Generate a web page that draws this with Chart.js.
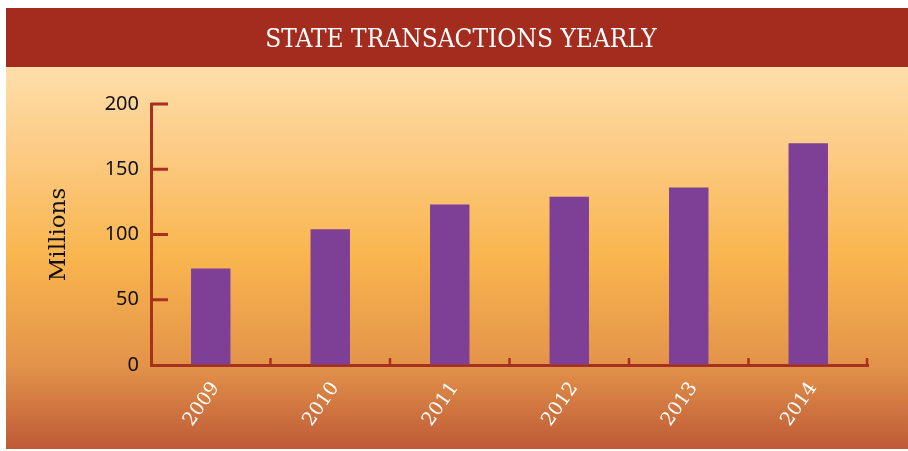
<!DOCTYPE html>
<html>
<head>
<meta charset="utf-8">
<script src="https://cdn.jsdelivr.net/npm/chart.js@4/dist/chart.umd.min.js"></script>
<style>
  html, body { margin: 0; padding: 0; background: #ffffff; }
  #wrap { width: 908px; height: 451px; position: relative; }
  canvas { display: block; }
</style>
</head>
<body>
<div id="wrap"><canvas id="c" width="908" height="451"></canvas></div>
<script>
const chartTitle = "STATE TRANSACTIONS YEARLY";
const years = ["2009", "2010", "2011", "2012", "2013", "2014"];
const transactions = [74, 104, 123, 129, 136, 170];
const yTicks = [0, 50, 100, 150, 200];
const yAxisTitle = "Millions";

const AXIS_RED = "#A8301F";

const framePlugin = {
  id: "frame",
  beforeDraw(chart) {
    const ctx = chart.ctx;
    ctx.save();
    ctx.fillStyle = "#ffffff";
    ctx.fillRect(0, 0, chart.width, chart.height);
    const g = ctx.createLinearGradient(0, 67, 0, 449);
    g.addColorStop(0.0, "#FEDEAA");
    g.addColorStop(0.22, "#FCCB84");
    g.addColorStop(0.5, "#F9B54E");
    g.addColorStop(0.78, "#E3934A");
    g.addColorStop(1.0, "#BE5A37");
    ctx.fillStyle = g;
    ctx.fillRect(6, 67, 902, 382);
    ctx.fillStyle = "#A32C1E";
    ctx.fillRect(6, 8, 902, 59);
    ctx.fillStyle = "#ffffff";
    ctx.font = "26px 'DejaVu Serif Condensed', 'DejaVu Serif', serif";
    ctx.textAlign = "center";
    ctx.textBaseline = "alphabetic";
    ctx.fillText(chartTitle, 461, 47);
    ctx.restore();
  },
  afterDatasetsDraw(chart) {
    const ctx = chart.ctx;
    const x = chart.scales.x, y = chart.scales.y;
    const area = chart.chartArea;
    ctx.save();
    ctx.strokeStyle = AXIS_RED;
    ctx.lineCap = "butt";
    ctx.lineWidth = 3;
    yTicks.forEach(v => {
      if (v === 0) return;
      const py = y.getPixelForValue(v);
      ctx.beginPath();
      ctx.moveTo(area.left, py);
      ctx.lineTo(area.left + 17, py);
      ctx.stroke();
    });
    ctx.lineWidth = 2.5;
    const n = years.length;
    for (let i = 1; i <= n; i++) {
      const px = i < n
        ? (x.getPixelForValue(i - 1) + x.getPixelForValue(i)) / 2
        : area.right - 1;
      ctx.beginPath();
      ctx.moveTo(px, area.bottom);
      ctx.lineTo(px, area.bottom - 7);
      ctx.stroke();
    }
    ctx.restore();
  }
};

new Chart(document.getElementById("c"), {
  type: "bar",
  data: {
    labels: years,
    datasets: [{
      data: transactions,
      backgroundColor: "#7E3F96",
      borderWidth: 0,
      barPercentage: 0.33,
      categoryPercentage: 1.0
    }]
  },
  options: {
    responsive: false,
    devicePixelRatio: 1,
    animation: false,
    layout: { padding: { top: 104, right: 40, bottom: 0, left: 0 } },
    plugins: {
      legend: { display: false },
      title: { display: false },
      tooltip: { enabled: false }
    },
    scales: {
      x: {
        offset: true,
        grid: { display: true, drawOnChartArea: false, drawTicks: false },
        border: { display: true, color: AXIS_RED, width: 3 },
        ticks: {
          color: "#ffffff",
          font: { family: "'DejaVu Serif', serif", size: 19 },
          maxRotation: 55,
          minRotation: 55,
          padding: 13,
          labelOffset: 5
        },
        afterFit(s) { s.height = 86; }
      },
      y: {
        min: 0,
        max: 200,
        afterBuildTicks(s) { s.ticks = yTicks.map(v => ({ value: v })); },
        grid: { display: true, drawOnChartArea: false, drawTicks: false },
        border: { display: true, color: AXIS_RED, width: 3 },
        ticks: {
          color: "#111111",
          font: { family: "'Noto Sans', sans-serif", size: 20 },
          padding: 12
        },
        title: {
          display: true,
          text: yAxisTitle,
          color: "#111111",
          font: { family: "'DejaVu Serif', serif", size: 23 },
          padding: { top: 45, bottom: 0 }
        },
        afterFit(s) { s.width = 151; }
      }
    }
  },
  plugins: [framePlugin]
});
</script>
</body>
</html>
